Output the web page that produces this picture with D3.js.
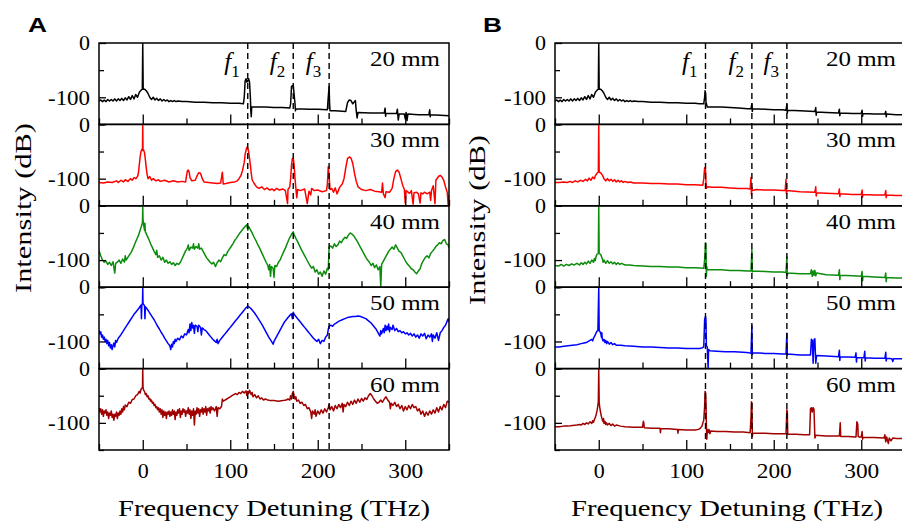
<!DOCTYPE html>
<meta charset="utf-8">
<head>
  <title>Spectra vs length</title>
</head>
<style>
  body { margin: 0; background: #fff; }
  text { font-family: "Liberation Serif", "Times New Roman", serif; fill: #000; }
  .frame { fill: none; stroke: #000; stroke-width: 1.5; }
  .trace { fill: none; stroke-width: 1.5; stroke-linejoin: round; }
  .fline { stroke: #000; stroke-width: 1.4; stroke-dasharray: 6,4; }
  .tick line { stroke: #000; stroke-width: 1.3; }
</style>
<body>
<div id="chart"></div>
<script src="https://d3js.org/d3.v7.min.js"></script>
<script>

var distances = ["20 mm", "30 mm", "40 mm", "50 mm", "60 mm"];
var colors = ["#000000", "#ff0000", "#0c8c0c", "#0000ff", "#a00000"];
var xMajor = [0, 100, 200, 300];
var xMinor = [-50, 50, 150, 250, 350];
var yMajor = [0, -100];
var yMinor = [-50, -150];
var fA = [120, 172, 213];
var fB = [122, 175, 215];

// panel A spectra [THz, dB]
var a20 = [[-50,-107],[-48,-105],[-46,-108],[-44,-105],[-42,-108],[-40,-104],[-38,-107],[-36,-104],[-34,-107],[-32,-103],[-30,-107],[-28,-103],[-26,-106],[-24,-102],[-22,-106],[-20,-101],[-18,-105],[-16,-99],[-14,-104],[-12,-97],[-10,-103],[-8,-95],[-6,-100],[-4,-91],[-2,-87],[-0.5,-85],[0,0],[0.5,-85],[2,-85],[4,-88],[6,-93],[8,-100],[10,-104],[12,-100],[14,-105],[16,-102],[18,-106],[20,-103],[22,-107],[24,-104],[26,-107],[28,-105],[30,-108],[32,-106],[34,-108],[36,-106],[38,-108],[40,-107],[45,-108],[50,-108],[60,-109],[70,-109],[80,-110],[90,-110],[100,-111],[110,-111],
  [115,-112],[116,-100],[117,-70],[118,-66],[119,-72],[120,-70],[121,-66],[122,-72],[123,-100],[123.5,-125],[124,-136],[124.5,-118],[130,-118],[140,-118],[150,-119],[160,-119],[168,-120],[169,-112],[170,-80],[172,-78],[174,-112],[174.5,-125],[175,-121],[190,-122],[200,-122],[211,-123],[212,-100],[213,-80],[213.5,-110],[214,-125],[220,-125],[232,-126],[234,-110],[236,-105],[238,-106],[240,-112],[242,-108],[243,-106],[244,-125],[245,-138],[246,-128],[260,-129],[276,-129],[277,-120],[277.5,-135],[278,-130],[290,-130],[291,-122],[292,-142],[293,-131],[299,-131],[300,-140],[301,-128],[302,-143],[303,-131],[315,-132],[327,-132],[328,-123],[328.5,-136],[329,-132],[340,-133],[350,-134]];

var a30 = [[-50,-107],[-45,-108],[-40,-106],[-35,-107],[-30,-104],[-28,-107],[-25,-103],[-22,-106],[-20,-102],[-17,-105],[-14,-100],[-12,-103],[-10,-98],[-8,-100],[-6,-96],[-5,-90],[-4,-75],[-3,-60],[-2,-50],[-1,-46],[-0.3,-48],[0,0],[0.3,-48],[1,-47],[2,-52],[3,-65],[4,-80],[5,-92],[6,-100],[8,-96],[10,-103],[12,-100],[15,-104],[18,-102],[20,-105],[25,-103],[30,-106],[35,-104],[40,-106],[45,-105],[49,-106],[50,-95],[51,-86],[52,-84],[53,-88],[54,-98],[56,-104],[60,-103],[62,-95],[64,-89],[66,-90],[68,-100],[70,-106],[75,-107],[80,-108],[85,-109],[89,-108],[90,-98],[91,-88],[92,-110],[95,-109],[100,-107],[105,-106],[108,-104],[110,-100],[112,-95],[114,-85],[116,-70],[117,-55],[118,-48],[119,-42],[120,-44],[121,-50],[122,-62],[123,-75],[124,-90],[125,-102],[127,-108],[130,-115],[133,-118],[136,-115],[139,-120],[142,-117],[145,-121],[148,-119],[150,-122],[153,-118],[156,-121],[160,-119],[163,-122],[165.5,-146],[166,-120],[168,-115],[169,-100],[170,-75],[171,-63],[172,-62],[173,-75],[174,-100],[175,-118],[176,-135],[177,-120],[180,-122],[185,-119],[188,-146],[190,-123],[192,-130],[193,-118],[196,-122],[200,-121],[205,-124],[210,-122],[211,-110],[212,-78],[213,-95],[214,-120],[216,-118],[218,-125],[220,-117],[222,-128],[225,-116],[228,-110],[230,-100],[232,-80],[234,-63],[236,-60],[238,-62],[240,-72],[242,-90],[244,-105],[246,-115],[250,-120],[255,-122],[260,-120],[265,-123],[270,-124],[273,-125],[274,-108],[275,-128],[277,-135],[278,-124],[282,-125],[285,-118],[287,-100],[289,-87],[291,-84],[293,-88],[295,-100],[297,-112],[299,-120],[300,-145],[301,-122],[305,-127],[307,-122],[309,-147],[310,-126],[313,-125],[315,-128],[317,-145],[318,-126],[320,-128],[322,-125],[325,-128],[328,-125],[329,-140],[330,-122],[332,-113],[334,-146],[335,-103],[338,-96],[340,-94],[342,-97],[344,-103],[346,-115],[348,-125],[349,-148],[350,-130]];

var a40 = [[-50,-83],[-48,-92],[-46,-100],[-44,-104],[-42,-102],[-40,-108],[-38,-104],[-36,-110],[-34,-103],[-32,-124],[-31,-106],[-29,-104],[-27,-100],[-25,-106],[-23,-98],[-21,-104],[-20,-92],[-19,-100],[-17,-95],[-15,-90],[-13,-85],[-11,-78],[-9,-70],[-7,-62],[-5,-55],[-4,-50],[-3,-45],[-2,-40],[-1,-35],[-0.3,-30],[0,0],[0.3,-25],[1,-35],[2,-45],[2.5,-32],[3,-48],[5,-55],[7,-62],[9,-70],[11,-77],[13,-84],[15,-90],[16,-82],[17,-95],[19,-92],[21,-100],[23,-95],[25,-104],[27,-100],[29,-106],[31,-103],[33,-108],[35,-105],[37,-110],[39,-106],[41,-108],[43,-104],[45,-97],[47,-90],[49,-83],[51,-78],[52,-72],[53,-82],[55,-76],[57,-78],[58,-70],[59,-80],[61,-75],[63,-78],[64,-70],[65,-80],[67,-78],[69,-84],[71,-90],[73,-96],[75,-100],[77,-104],[79,-107],[81,-104],[83,-112],[85,-105],[87,-100],[89,-103],[91,-96],[93,-90],[95,-92],[97,-85],[99,-80],[101,-75],[103,-70],[105,-64],[107,-60],[109,-55],[111,-50],[113,-46],[115,-42],[117,-38],[119,-35],[120,-45],[121,-38],[123,-44],[125,-50],[127,-57],[129,-63],[131,-70],[133,-76],[135,-83],[137,-90],[139,-97],[141,-104],[143,-110],[144,-118],[145,-108],[146,-130],[147,-112],[149,-115],[150,-132],[151,-110],[153,-112],[155,-104],[157,-100],[159,-92],[161,-85],[163,-78],[165,-70],[167,-62],[169,-56],[171,-50],[172,-48],[173,-53],[175,-60],[177,-66],[179,-73],[181,-80],[183,-86],[185,-92],[187,-98],[189,-104],[191,-110],[193,-115],[195,-112],[197,-122],[199,-118],[201,-126],[203,-122],[205,-130],[207,-120],[209,-126],[211,-115],[212,-118],[213,-76],[215,-74],[217,-78],[219,-70],[221,-75],[223,-72],[225,-65],[227,-68],[229,-62],[231,-58],[233,-60],[235,-54],[237,-50],[239,-52],[241,-55],[243,-60],[245,-65],[247,-71],[249,-77],[251,-83],[253,-89],[255,-95],[257,-100],[259,-104],[261,-110],[263,-106],[265,-114],[267,-109],[269,-118],[271,-112],[272,-150],[273,-108],[275,-102],[277,-96],[279,-90],[281,-84],[283,-80],[285,-76],[287,-80],[289,-72],[291,-78],[293,-84],[295,-86],[297,-92],[299,-98],[301,-104],[303,-108],[305,-112],[307,-116],[309,-118],[311,-122],[313,-125],[315,-120],[317,-116],[319,-106],[321,-100],[323,-95],[325,-92],[327,-96],[329,-88],[331,-84],[333,-80],[335,-75],[337,-72],[339,-68],[341,-70],[343,-64],[345,-62],[347,-70],[349,-72],[350,-78]];

var a50 = [[-50,-80],[-49,-86],[-48,-82],[-47,-92],[-46,-88],[-45,-96],[-44,-92],[-43,-100],[-42,-96],[-41,-104],[-40,-98],[-39,-108],[-38,-102],[-37,-112],[-36,-106],[-35,-115],[-34,-108],[-33,-103],[-32,-110],[-31,-98],[-30,-102],[-28,-94],[-26,-90],[-24,-85],[-22,-80],[-20,-75],[-18,-70],[-16,-65],[-14,-60],[-12,-55],[-10,-50],[-8,-46],[-6,-42],[-4,-38],[-3,-35],[-2,-33],[-1.5,-58],[-1,-32],[-0.3,-30],[0,0],[0.3,-30],[1,-32],[2,-34],[2.5,-58],[3,-36],[5,-40],[7,-45],[9,-50],[11,-55],[13,-60],[15,-66],[17,-72],[19,-77],[21,-83],[23,-88],[25,-94],[27,-99],[29,-104],[31,-108],[32,-115],[33,-105],[34,-110],[35,-100],[36,-104],[37,-96],[38,-100],[40,-94],[42,-97],[44,-90],[46,-93],[48,-86],[50,-88],[52,-78],[53,-84],[54,-68],[55,-80],[56,-65],[57,-75],[58,-70],[59,-85],[60,-70],[62,-72],[63,-82],[64,-70],[66,-74],[67,-88],[68,-75],[70,-78],[72,-80],[74,-84],[76,-88],[78,-92],[80,-96],[82,-99],[84,-102],[85,-96],[86,-104],[88,-98],[90,-94],[92,-90],[94,-86],[96,-82],[98,-78],[100,-74],[102,-70],[104,-66],[106,-62],[108,-58],[110,-54],[112,-50],[114,-46],[116,-42],[118,-38],[120,-35],[122,-37],[124,-40],[126,-44],[128,-48],[130,-53],[132,-58],[134,-63],[136,-68],[138,-74],[140,-80],[142,-86],[144,-92],[146,-97],[148,-102],[149,-105],[150,-100],[152,-94],[154,-88],[156,-82],[158,-76],[160,-70],[162,-64],[164,-60],[166,-56],[168,-52],[170,-49],[171,-58],[172,-46],[173,-50],[175,-54],[177,-58],[179,-62],[181,-66],[183,-70],[185,-74],[187,-78],[189,-82],[191,-86],[193,-90],[195,-94],[197,-97],[199,-100],[201,-96],[203,-104],[205,-98],[207,-100],[209,-92],[211,-88],[212,-78],[213,-72],[215,-70],[217,-72],[219,-68],[221,-66],[223,-64],[225,-62],[228,-60],[231,-58],[234,-56],[237,-55],[240,-54],[243,-54],[246,-53],[249,-54],[252,-56],[255,-58],[258,-62],[261,-66],[264,-72],[267,-78],[269,-84],[271,-90],[272,-80],[273,-86],[275,-76],[276,-84],[277,-70],[278,-80],[279,-72],[280,-78],[281,-68],[282,-82],[283,-74],[285,-78],[286,-70],[288,-80],[290,-76],[292,-82],[294,-80],[296,-84],[298,-82],[300,-86],[302,-84],[304,-88],[306,-85],[308,-90],[310,-86],[312,-92],[314,-88],[316,-94],[318,-86],[320,-90],[322,-85],[324,-95],[326,-88],[328,-92],[330,-86],[331,-100],[332,-88],[334,-94],[336,-84],[338,-98],[340,-84],[342,-80],[344,-74],[346,-70],[348,-62],[349,-58],[350,-64]];

var a60 = [[-50,-72],[-49,-80],[-48,-74],[-47,-84],[-46,-76],[-45,-88],[-44,-78],[-43,-82],[-42,-76],[-41,-86],[-40,-80],[-39,-92],[-38,-82],[-37,-86],[-36,-78],[-35,-90],[-34,-84],[-33,-95],[-32,-84],[-31,-88],[-30,-80],[-29,-92],[-28,-82],[-27,-86],[-26,-78],[-25,-84],[-24,-74],[-23,-80],[-22,-70],[-21,-76],[-20,-67],[-18,-70],[-16,-62],[-14,-64],[-12,-57],[-10,-56],[-8,-50],[-6,-48],[-4,-42],[-3,-45],[-2,-38],[-1,-36],[-0.3,-34],[0,0],[0.3,-34],[1,-40],[2,-42],[3,-48],[4,-46],[5,-52],[6,-50],[7,-56],[8,-55],[9,-60],[10,-58],[11,-64],[12,-62],[13,-68],[14,-66],[15,-72],[16,-70],[17,-76],[18,-72],[19,-80],[20,-74],[21,-84],[22,-76],[23,-90],[24,-78],[25,-86],[26,-80],[27,-92],[28,-80],[29,-84],[30,-78],[31,-88],[32,-80],[33,-86],[34,-76],[35,-84],[36,-78],[37,-94],[38,-80],[39,-86],[40,-76],[41,-82],[42,-74],[43,-90],[44,-78],[45,-84],[46,-74],[47,-80],[48,-76],[49,-88],[50,-78],[51,-82],[52,-72],[53,-84],[54,-76],[55,-92],[56,-78],[57,-86],[58,-74],[59,-104],[60,-78],[61,-84],[62,-72],[63,-82],[64,-74],[65,-88],[66,-76],[67,-80],[68,-72],[69,-84],[70,-74],[71,-80],[72,-70],[73,-86],[74,-74],[75,-78],[76,-72],[77,-82],[78,-70],[79,-76],[80,-72],[82,-78],[84,-70],[85,-88],[86,-72],[88,-74],[90,-70],[91,-56],[92,-60],[94,-58],[96,-56],[98,-54],[100,-52],[102,-50],[104,-48],[106,-46],[108,-48],[110,-44],[112,-46],[114,-42],[116,-45],[118,-41],[119,-50],[120,-42],[121,-46],[122,-40],[124,-48],[125,-44],[126,-52],[128,-48],[130,-54],[132,-50],[134,-56],[136,-54],[138,-58],[140,-56],[143,-58],[146,-59],[150,-59],[155,-60],[160,-59],[164,-58],[166,-56],[168,-58],[169,-50],[170,-56],[171,-46],[172,-42],[173,-50],[174,-56],[175,-52],[176,-60],[178,-58],[180,-64],[182,-62],[184,-68],[186,-66],[188,-74],[190,-72],[192,-80],[193,-92],[194,-78],[196,-84],[197,-76],[198,-88],[200,-78],[202,-84],[204,-76],[206,-82],[208,-74],[210,-80],[212,-72],[213,-66],[214,-76],[216,-70],[218,-78],[220,-68],[222,-74],[224,-66],[226,-72],[228,-64],[229,-80],[230,-66],[232,-70],[234,-62],[236,-68],[238,-60],[240,-66],[242,-58],[244,-64],[246,-56],[248,-62],[250,-55],[252,-60],[254,-54],[256,-57],[258,-50],[260,-46],[262,-50],[264,-56],[266,-60],[268,-64],[270,-62],[272,-58],[274,-62],[276,-56],[278,-52],[280,-58],[282,-62],[283,-74],[284,-64],[286,-68],[288,-62],[290,-70],[292,-66],[294,-74],[296,-68],[298,-78],[300,-70],[302,-76],[304,-68],[306,-74],[308,-66],[310,-72],[312,-70],[314,-78],[316,-74],[318,-84],[320,-78],[322,-88],[324,-80],[326,-86],[328,-78],[330,-84],[332,-76],[334,-82],[336,-72],[338,-80],[340,-70],[342,-76],[344,-66],[346,-72],[348,-60],[350,-62]];

// panel B spectra [THz, dB]
var b20tail = [[115,-112],[120,-112],[121,-100],[121.5,-88],[122,-92],[122.5,-108],[123,-112],[124,-118],[130,-118],[140,-118],[150,-119],[160,-120],[170,-121],[174,-121],[175,-112],[175.5,-126],[176,-121],[190,-122],[200,-123],[210,-123],[214,-124],[215,-113],[215.5,-129],[216,-124],[230,-125],[247,-126],[248,-119],[248.5,-133],[249,-127],[260,-128],[274,-129],[275,-122],[275.5,-134],[276,-129],[290,-130],[300,-130],[301,-124],[301.5,-135],[302,-130],[315,-131],[327,-131],[328,-126],[328.5,-136],[329,-131],[340,-132],[350,-132]];
var b20 = a20.filter(function(d) { return d[0] <= 110; }).concat(b20tail);

var b30 = [[-50,-107],[-45,-107],[-40,-106],[-36,-107],[-33,-105],[-30,-107],[-27,-104],[-24,-106],[-21,-103],[-18,-105],[-15,-101],[-13,-104],[-11,-99],[-9,-103],[-7,-97],[-5,-100],[-4,-95],[-2,-90],[-0.5,-88],[0,0],[0.5,-88],[2,-89],[4,-93],[6,-100],[8,-104],[10,-100],[12,-104],[14,-101],[16,-105],[18,-102],[20,-106],[22,-103],[24,-106],[26,-104],[28,-107],[30,-105],[33,-107],[36,-106],[40,-108],[50,-108],[60,-109],[70,-109],[80,-110],[90,-110],[100,-111],[110,-111],[119,-112],[120,-100],[121,-80],[122,-84],[122.5,-105],[123,-118],[124,-115],[130,-116],[140,-116],[150,-117],[160,-118],[170,-118],[173,-119],[174,-98],[174.5,-130],[175,-116],[175.5,-122],[180,-120],[190,-121],[200,-121],[210,-122],[213,-122],[214,-101],[214.5,-128],[215,-122],[230,-124],[247,-125],[248,-115],[248.5,-132],[249,-126],[260,-127],[274,-128],[275,-119],[275.5,-133],[276,-128],[290,-129],[300,-129],[301,-121],[301.5,-134],[302,-129],[315,-130],[327,-130],[328,-122],[328.5,-135],[329,-130],[340,-131],[350,-131]];

var b40 = [[-50,-110],[-46,-111],[-43,-108],[-40,-111],[-37,-108],[-34,-110],[-31,-107],[-28,-109],[-25,-106],[-22,-109],[-20,-105],[-18,-108],[-16,-104],[-14,-107],[-12,-102],[-10,-106],[-8,-100],[-6,-104],[-5,-97],[-4,-101],[-3,-93],[-2,-89],[-0.5,-88],[0,0],[0.5,-88],[2,-89],[3,-93],[4,-97],[5,-104],[6,-100],[8,-106],[10,-101],[12,-106],[14,-103],[16,-107],[18,-104],[20,-108],[22,-105],[24,-108],[26,-106],[30,-109],[35,-109],[40,-110],[50,-111],[60,-112],[70,-112],[80,-113],[90,-113],[100,-114],[110,-114],[120,-115],[121,-100],[122,-68],[122.5,-70],[123,-130],[123.5,-112],[124,-118],[130,-118],[140,-118],[150,-119],[160,-119],[170,-120],[174,-120],[175,-80],[175.5,-122],[176,-120],[190,-121],[200,-122],[210,-122],[214,-123],[215,-94],[215.5,-128],[216,-124],[230,-125],[242,-125],[243,-118],[244,-130],[245,-120],[246,-128],[247,-119],[248,-129],[249,-124],[260,-127],[274,-128],[275,-118],[275.5,-136],[276,-128],[290,-129],[300,-130],[301,-121],[301.5,-138],[302,-130],[315,-131],[327,-132],[328,-124],[328.5,-140],[329,-132],[340,-133],[350,-133]];

var b50 = [[-50,-110],[-45,-110],[-40,-109],[-35,-108],[-30,-107],[-25,-106],[-20,-104],[-17,-103],[-14,-102],[-12,-100],[-10,-98],[-8,-96],[-7,-99],[-6,-94],[-5,-91],[-4,-88],[-3,-84],[-2,-81],[-1,-80],[0,0],[0.5,-80],[1.5,-82],[2.5,-86],[3,-92],[3.5,-84],[4,-95],[5,-99],[6,-96],[7,-102],[8,-98],[9,-104],[10,-100],[12,-105],[14,-102],[16,-106],[18,-104],[20,-107],[25,-107],[30,-108],[40,-109],[50,-110],[60,-110],[70,-111],[80,-112],[90,-112],[100,-113],[110,-113],[115,-113],[118,-112],[120,-110],[121,-60],[122,-54],[122.5,-60],[123,-108],[124,-110],[125,-149],[125.5,-115],[127,-117],[135,-118],[145,-119],[155,-119],[165,-120],[172,-121],[174,-122],[175,-71],[175.5,-124],[176,-121],[190,-122],[200,-122],[210,-123],[214,-123],[215,-85],[215.5,-125],[216,-123],[230,-125],[242,-125],[243,-96],[244,-98],[245,-140],[246,-97],[247,-95],[248,-140],[249,-126],[260,-127],[274,-128],[275,-116],[275.5,-135],[276,-128],[293,-129],[294,-121],[294.5,-138],[295,-130],[303,-130],[304,-118],[304.5,-136],[305,-130],[315,-131],[327,-131],[328,-120],[328.5,-136],[329,-131],[335,-132],[336,-137],[337,-132],[345,-132],[350,-132]];

var b60 = [[-50,-107],[-45,-107],[-40,-106],[-35,-106],[-30,-105],[-25,-104],[-22,-103],[-20,-104],[-18,-101],[-16,-103],[-14,-100],[-12,-102],[-10,-98],[-8,-101],[-7,-96],[-6,-99],[-5,-94],[-4,-90],[-3,-85],[-2,-78],[-1,-68],[-0.5,-61],[0,0],[0.5,-62],[1,-70],[2,-80],[3,-88],[4,-94],[5,-98],[5.5,-92],[6,-101],[7,-97],[8,-103],[9,-100],[10,-104],[12,-101],[14,-105],[16,-102],[18,-106],[20,-104],[25,-106],[30,-107],[40,-108],[50,-108],[51,-97],[51.5,-100],[52,-109],[60,-110],[70,-110],[70.5,-118],[71,-111],[80,-111],[90,-112],[90.5,-119],[91,-112],[100,-113],[110,-113],[114,-112],[116,-110],[118,-106],[119,-100],[120,-95],[121,-70],[121.5,-42],[122,-44],[122.5,-60],[123,-105],[123.5,-130],[124,-112],[125,-118],[126,-112],[127,-120],[128,-115],[135,-116],[145,-116],[155,-117],[165,-117],[173,-118],[174,-90],[174.5,-61],[175,-63],[175.5,-125],[176,-119],[190,-119],[200,-120],[210,-120],[214,-120],[215,-76],[215.5,-80],[216,-121],[225,-121],[235,-122],[241,-122],[242,-74],[243,-72],[244,-80],[245,-72],[246,-75],[247,-128],[248,-123],[260,-124],[275,-124],[276,-100],[276.5,-125],[277,-125],[285,-125],[294,-126],[295,-98],[296,-102],[296.5,-125],[298,-126],[300,-126],[301,-116],[301.5,-130],[302,-127],[315,-127],[326,-128],[327,-122],[328,-135],[329,-126],[331,-138],[332,-128],[334,-133],[336,-128],[340,-129],[350,-129]];

var svg = d3.select("#chart").append("svg")
  .attr("width", 902)
  .attr("height", 532);

draw("A", 99, 449, [a20, a30, a40, a50, a60], fA, 28, 31, 208, 274);
draw("B", 555, 905, [b20, b30, b40, b50, b60], fB, 483, 485, 220, 727);

function draw(letter, left, right, traces, fs, letterX, titleX, titleY, xTitleX) {
  var top0 = 43, h = 81.4;
  var x = d3.scaleLinear().domain([-50, 350]).range([left, right]);
  var g = svg.append("g");

  traces.forEach(function(data, i) {
    var top = top0 + i * h;
    var y = d3.scaleLinear().domain([-150, 0]).range([top + h, top]);
    var id = "clip" + letter + i;

    svg.append("clipPath").attr("id", id)
      .append("rect")
      .attr("x", left).attr("y", top)
      .attr("width", right - left).attr("height", h);

    var line = d3.line()
      .x(function(d) { return x(d[0]); })
      .y(function(d) { return y(d[1]); });

    g.append("path")
      .datum(data)
      .attr("class", "trace")
      .attr("clip-path", "url(#" + id + ")")
      .attr("stroke", colors[i])
      .attr("d", line);

    g.append("rect")
      .attr("class", "frame")
      .attr("x", left).attr("y", top)
      .attr("width", right - left).attr("height", h);

    // x ticks, inward
    var xa = g.append("g").attr("class", "tick")
      .attr("transform", "translate(0," + (top + h) + ")")
      .call(d3.axisBottom(x).tickValues(xMajor).tickSize(-10).tickPadding(13)
        .tickFormat(i === 4 ? function(d) { return String(d); } : function() { return ""; }));
    xa.select(".domain").remove();
    g.append("g").attr("class", "tick")
      .attr("transform", "translate(0," + (top + h) + ")")
      .call(d3.axisBottom(x).tickValues(xMinor).tickSize(-6).tickFormat(""))
      .select(".domain").remove();

    // y ticks, inward
    var ya = g.append("g").attr("class", "tick")
      .attr("transform", "translate(" + left + ",0)")
      .call(d3.axisLeft(y).tickValues(yMajor).tickSize(-7).tickPadding(9)
        .tickFormat(function(d) { return String(d); }));
    ya.select(".domain").remove();
    g.append("g").attr("class", "tick")
      .attr("transform", "translate(" + left + ",0)")
      .call(d3.axisLeft(y).tickValues(yMinor).tickSize(-5).tickFormat(""))
      .select(".domain").remove();

    g.append("text")
      .attr("x", right - 9)
      .attr("y", top + 23)
      .attr("text-anchor", "end")
      .attr("textLength", 70)
      .attr("lengthAdjust", "spacingAndGlyphs")
      .style("font-size", "21px")
      .text(distances[i]);
  });

  // tick labels, widened like the source figure
  g.selectAll(".tick text")
    .style("font-size", "21px")
    .style("fill", "#000")
    .each(function() {
      var s = this.textContent;
      if (!s) return;
      var w = s === "0" ? 11 : (s.length === 4 ? 42 : 35);
      d3.select(this).attr("textLength", w).attr("lengthAdjust", "spacingAndGlyphs");
    });

  fs.forEach(function(f, k) {
    g.append("line")
      .attr("class", "fline")
      .attr("x1", x(f)).attr("x2", x(f))
      .attr("y1", top0).attr("y2", top0 + 5 * h);

    var t = g.append("text")
      .attr("x", x(f) - 8)
      .attr("y", 70)
      .attr("text-anchor", "end")
      .style("font-size", "25px");
    t.append("tspan").style("font-style", "italic").text("f");
    t.append("tspan").attr("dy", 7).style("font-size", "17px").text(k + 1);
  });

  svg.append("text")
    .attr("x", letterX).attr("y", 32)
    .attr("textLength", 19)
    .attr("lengthAdjust", "spacingAndGlyphs")
    .style("font-family", "'Liberation Sans', Arial, sans-serif")
    .style("font-weight", "bold")
    .style("font-size", "21px")
    .text(letter);

  svg.append("text")
    .attr("transform", "translate(" + titleX + "," + titleY + ") rotate(-90)")
    .attr("text-anchor", "middle")
    .attr("textLength", 170)
    .attr("lengthAdjust", "spacingAndGlyphs")
    .style("font-size", "23px")
    .text("Intensity (dB)");

  svg.append("text")
    .attr("x", xTitleX).attr("y", 516)
    .attr("text-anchor", "middle")
    .attr("textLength", 312)
    .attr("lengthAdjust", "spacingAndGlyphs")
    .style("font-size", "23px")
    .text("Frequency Detuning (THz)");
}

</script>
</body>
</html>
